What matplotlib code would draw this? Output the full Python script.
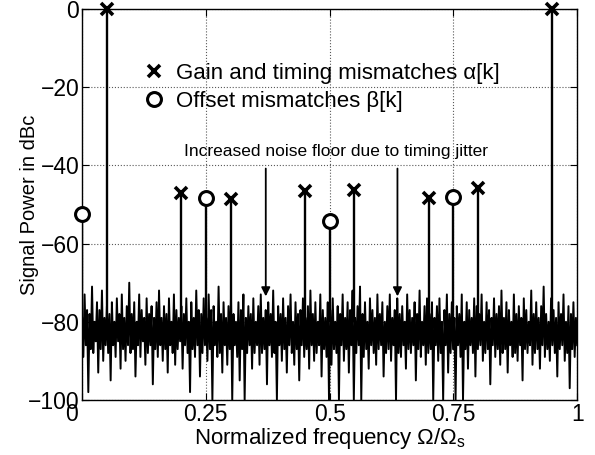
import numpy as np
import matplotlib
matplotlib.use("Agg")
import matplotlib.pyplot as plt
from matplotlib.transforms import ScaledTranslation

plt.rcParams['font.family'] = ['Liberation Sans', 'DejaVu Sans']
plt.rcParams['mathtext.fontset'] = 'custom'
plt.rcParams['mathtext.rm'] = 'Liberation Sans'
plt.rcParams['mathtext.it'] = 'Liberation Sans:italic'

# noise floor of the spectrum (dBc) left to right
noise = [
    -79, -89, -73, -86, -77, -98, -78, -87, -71, -88, -80, -85, -75, -93, -77, -87, -72, -90, -79, -86,
    -76, -88, -78, -95, -75, -86, -80, -89, -74, -85, -78, -92, -73, -87, -79, -90, -76, -86, -70, -88,
    -78, -87, -75, -94, -80, -86, -73, -89, -77, -85, -79, -91, -74, -88, -78, -86, -76, -96, -79, -87,
    -75, -89, -72, -86, -79, -90, -76, -87, -78, -93, -74, -86, -80, -88, -73, -91, -77, -87, -79, -85,
    -76, -92, -78, -86, -74, -88, -80, -98, -75, -87, -79, -89, -72, -86, -77, -94, -78, -88, -74, -86,
    -79, -90, -73, -87, -77, -100, -76, -86, -80, -89, -71, -88, -78, -93, -75, -86, -79, -91, -76, -87,
    -74, -100, -78, -86, -80, -89, -75, -95, -77, -87, -73, -100, -79, -88, -76, -86, -78, -92, -74, -88,
    -80, -86, -76, -91, -73, -88, -79, -87, -77, -96, -75, -86, -78, -89, -72, -88, -80, -100, -76, -86,
    -78, -90, -74, -87, -79, -93, -76, -86, -73, -88, -80, -91, -75, -87, -78, -95, -77, -86, -74, -89,
    -79, -87, -76, -92, -72, -86, -78, -90, -75, -88, -80, -86, -73, -94, -77, -87, -79, -89, -75, -100,
    -77, -91, -74, -87, -80, -88, -76, -100, -78, -86, -73, -90, -79, -87, -75, -93, -77, -86, -72, -100,
    -79, -88, -76, -86, -71, -100, -78, -89, -75, -87, -80, -92, -74, -86, -77, -88, -79, -91, -73, -87,
    -78, -86, -75, -94, -80, -88, -76, -87, -73, -90, -79, -86, -77, -100, -74, -88, -78, -89, -76, -86,
    -80, -92, -73, -87, -77, -88, -79, -86, -75, -95, -78, -87, -72, -89, -80, -86, -76, -91, -74, -88,
    -78, -87, -75, -100, -79, -86, -76, -90, -74, -88, -80, -100, -77, -86, -73, -93, -78, -88, -75, -87,
    -79, -100, -76, -86, -78, -89, -73, -100, -80, -87, -75, -92, -77, -86, -79, -88, -74, -94, -76, -87,
    -78, -86, -73, -90, -80, -88, -75, -87, -77, -96, -79, -86, -74, -89, -78, -87, -76, -91, -72, -88,
    -79, -87, -75, -93, -77, -86, -80, -89, -73, -88, -78, -90, -76, -86, -79, -95, -74, -87, -77, -88,
    -80, -86, -72, -91, -78, -88, -75, -87, -79, -92, -76, -86, -71, -89, -78, -87, -80, -90, -74, -86,
    -77, -88, -79, -94, -75, -87, -78, -86, -73, -90, -80, -88, -76, -97, -78, -87, -75, -89, -79, -86,
]

# gain/timing spurs (x markers)
alpha_freq = [0.05, 0.2, 0.3, 0.45, 0.55, 0.7, 0.8, 0.95]
alpha_level = [0, -47, -48.7, -46.5, -46.3, -48.4, -45.8, 0]

# offset spurs (circles)
beta_freq = [0.0, 0.25, 0.5, 0.75]
beta_level = [-52.3, -48.3, -54.2, -48.0]

# arrows for the noise floor note
arrow_freq = [0.371, 0.637]

freq = np.linspace(0, 1, len(noise))

fig = plt.figure(figsize=(5.95, 4.55), dpi=100)
ax = fig.add_axes([0.138, 0.121, 0.832, 0.859])

ax.plot(freq, noise, color='k', lw=1.4, zorder=2)
ax.vlines(alpha_freq, -80, alpha_level, color='k', lw=1.7, zorder=3)
ax.vlines(beta_freq, -80, beta_level, color='k', lw=1.7, zorder=3)

ax.plot(alpha_freq, alpha_level, 'x', color='k', ms=8, mew=2.6, ls='none',
        clip_on=False, zorder=4, label=r'Gain and timing mismatches α[k]')
ax.plot(beta_freq, beta_level, 'o', mfc='white', mec='k', ms=10, mew=2.2, ls='none',
        clip_on=False, zorder=4, label=r'Offset mismatches β[k]')

for f in arrow_freq:
    ax.annotate('', xy=(f, -73.5), xytext=(f, -40.8),
                arrowprops=dict(arrowstyle='-|>', color='k', lw=1.3, mutation_scale=13,
                                shrinkA=0, shrinkB=0), zorder=5)
ax.text(0.513, -36.5, 'Increased noise floor due to timing jitter', ha='center', va='center',
        fontsize=12.5)

ax.set_xlim(0, 1)
ax.set_ylim(-100, 0)
ax.set_xticks([0, 0.25, 0.5, 0.75, 1])
ax.set_xticklabels(['0', '0.25', '0.5', '0.75', '1'])
ax.set_yticks([-100, -80, -60, -40, -20, 0])
ax.set_yticklabels(['\u2212100', '\u221280', '\u221260', '\u221240', '\u221220', '0'])
ax.tick_params(direction='in', top=True, right=True, labelsize=16.5, length=5, pad=2)
ax.grid(True, ls=':', color='0.35', lw=0.8, zorder=0)
ax.set_axisbelow(True)
for s in ax.spines.values():
    s.set_linewidth(1.0)

# the "0" on the x axis sits under the "-100" like in the original
lab0 = ax.xaxis.get_major_ticks()[0].label1
lab0.set_transform(lab0.get_transform() + ScaledTranslation(-0.11, 0, fig.dpi_scale_trans))

ax.set_xlabel(r'Normalized frequency $\Omega/\Omega_\mathrm{s}$', fontsize=16, labelpad=0.5)
ax.set_ylabel('Signal Power in dBc', fontsize=14.5, labelpad=-8)

ax.legend(loc='upper left', bbox_to_anchor=(143 / 595, 1 - 63 / 455),
          bbox_transform=fig.transFigure, frameon=False, fontsize=16,
          handlelength=1.0, handletextpad=0.5, borderpad=0, borderaxespad=0,
          labelspacing=0.3, numpoints=1)

fig.savefig('out.png', dpi=100)
